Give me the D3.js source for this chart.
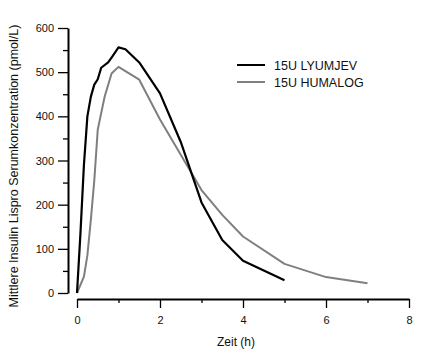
<!DOCTYPE html>
<html><head><meta charset="utf-8">
<script src="https://cdn.jsdelivr.net/npm/d3@7"></script>
<style>
body{margin:0;background:#fff;}
svg{display:block;font-family:"Liberation Sans",Arial,sans-serif;}
</style></head>
<body><svg id="c" width="448" height="354"></svg>
<script>
const seriesNames = ["15U LYUMJEV", "15U HUMALOG"];
const lyumjevTime = [0, 0.083, 0.167, 0.25, 0.333, 0.417, 0.5, 0.583, 0.75, 0.833, 1.0, 1.167, 1.5, 2, 2.5, 3, 3.5, 4, 5];
const lyumjevConc = [0, 135, 290, 400, 444, 472, 484, 510, 522, 533, 556, 552, 522, 452, 342, 205, 120, 73, 29];
const humalogTime = [0, 0.167, 0.25, 0.333, 0.417, 0.5, 0.667, 0.833, 1.0, 1.5, 2, 3, 3.5, 4, 5, 6, 7];
const humalogConc = [0, 37, 85, 165, 255, 370, 445, 497, 512, 483, 393, 233, 177, 128, 66, 36, 22];
const yTicks = [0, 100, 200, 300, 400, 500, 600];
const yMinor = [50, 150, 250, 350, 450, 550];
const xTicks = [0, 2, 4, 6, 8];
const xMinor = [1, 3, 5, 7];
const xLabel = "Zeit (h)";
const yLabel = "Mittlere Insulin Lispro Serumkonzentration (pmol/L)";

const svg = d3.select("#c");
const x = d3.scaleLinear().domain([0, 8]).range([77, 409]);
const y = d3.scaleLinear().domain([0, 600]).range([293, 28]);

// Y axis
const yAxisX = 68;
const yg = svg.append("g").attr("transform", `translate(${yAxisX},0)`);
yg.call(d3.axisLeft(y).tickValues(yTicks).tickSize(10).tickPadding(4).tickSizeOuter(0));
yg.append("g").call(d3.axisLeft(y).tickValues(yMinor).tickSize(5).tickFormat("").tickSizeOuter(0))
  .select(".domain").remove();
yg.selectAll(".domain").attr("stroke", "#000").attr("stroke-width", 2);
yg.selectAll(".tick line").attr("stroke", "#000").attr("stroke-width", 1.3);
yg.selectAll(".tick text").attr("font-size", 11).attr("fill", "#111").attr("font-family", "Liberation Sans, Arial, sans-serif");

// X axis
const xAxisY = 299;
const xg = svg.append("g").attr("transform", `translate(0,${xAxisY})`);
xg.call(d3.axisBottom(x).tickValues(xTicks).tickSize(9).tickPadding(8).tickSizeOuter(0));
xg.append("g").call(d3.axisBottom(x).tickValues(xMinor).tickSize(4).tickFormat("").tickSizeOuter(0))
  .select(".domain").remove();
xg.selectAll(".domain").attr("stroke", "#000").attr("stroke-width", 2);
xg.selectAll(".tick line").attr("stroke", "#000").attr("stroke-width", 1.3);
xg.selectAll(".tick text").attr("font-size", 11).attr("fill", "#111").attr("font-family", "Liberation Sans, Arial, sans-serif");

// Labels
svg.append("text").attr("x", 236).attr("y", 346).attr("text-anchor", "middle")
  .attr("font-size", 12).attr("fill", "#111").text(xLabel);
svg.append("text").attr("transform", "translate(18,166) rotate(-90)").attr("text-anchor", "middle")
  .attr("font-size", 12.5).attr("fill", "#111").text(yLabel);

// Lines
const line = d3.line().x(d => x(d[0])).y(d => y(d[1]));
const hum = humalogTime.map((t, i) => [t, humalogConc[i]]);
const lyu = lyumjevTime.map((t, i) => [t, lyumjevConc[i]]);
svg.append("path").datum(hum).attr("d", line).attr("fill", "none")
  .attr("stroke", "#7f7f7f").attr("stroke-width", 2).attr("stroke-linejoin", "round");
svg.append("path").datum(lyu).attr("d", line).attr("fill", "none")
  .attr("stroke", "#000").attr("stroke-width", 2.2).attr("stroke-linejoin", "round");

// Legend
const colors = ["#000", "#7f7f7f"];
const lg = svg.append("g");
seriesNames.forEach((n, i) => {
  const yy = 65 + i * 17;
  lg.append("line").attr("x1", 237).attr("x2", 265).attr("y1", yy).attr("y2", yy)
    .attr("stroke", colors[i]).attr("stroke-width", 2);
  lg.append("text").attr("x", 274).attr("y", yy + 4.5).attr("font-size", 12.5).attr("fill", "#111").text(n);
});
</script></body></html>
